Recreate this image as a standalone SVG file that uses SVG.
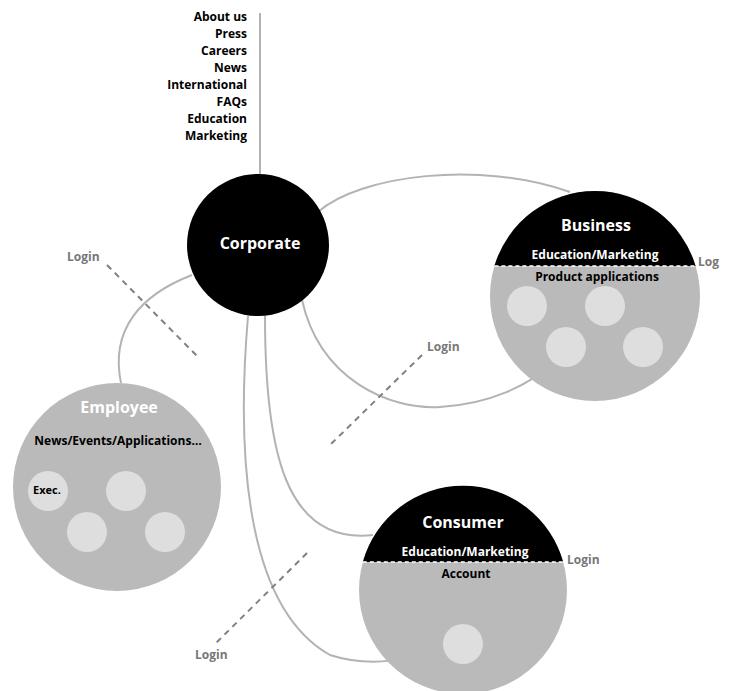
<svg xmlns="http://www.w3.org/2000/svg" width="730" height="691" viewBox="0 0 730 691">
<style>
text{font-family:"Open Sans","Liberation Sans",Arial,sans-serif;font-weight:bold}
.nav{font-size:12px;fill:#000;text-anchor:end}
.title{font-size:16px;fill:#fff;text-anchor:middle}
.sub{font-size:12px;text-anchor:middle}
.login{font-size:12px;fill:#777}
.conn{fill:none;stroke:#b3b3b3;stroke-width:2}
.dash{fill:none;stroke:#808080;stroke-width:2;stroke-dasharray:6 5}
.big{fill:#bababa}
.small{fill:#dedede}
.cap{fill:#000}
.chord{stroke:#fff;stroke-width:1.5;stroke-dasharray:4 3}
</style>
<g id="connectors">
<line class="conn" x1="260" y1="13" x2="260" y2="174"/>
<path class="conn" d="M318,212 C360,175 480,160 570,192"/>
<path class="conn" d="M192,275 C140,295 110,330 121,383"/>
<path class="conn" d="M302,300 C320,380 390,410 440,407 C490,404 530,385 552,363"/>
<path class="conn" d="M265,316 C265,450 285,545 373,535"/>
<path class="conn" d="M248,316 C235,470 250,610 330,655 C370,668 410,660 445,648"/>
<line class="dash" x1="107" y1="265" x2="198" y2="357"/>
<line class="dash" x1="422" y1="355" x2="330" y2="445"/>
<line class="dash" x1="307" y1="553" x2="215" y2="644"/>
</g>
<g id="nav">
<text class="nav" x="247" y="21">About us</text>
<text class="nav" x="247" y="38">Press</text>
<text class="nav" x="247" y="55">Careers</text>
<text class="nav" x="247" y="72">News</text>
<text class="nav" x="247" y="89">International</text>
<text class="nav" x="247" y="106">FAQs</text>
<text class="nav" x="247" y="123">Education</text>
<text class="nav" x="247" y="140">Marketing</text>
</g>
<g id="corporate">
<circle cx="258" cy="245" r="71" fill="#000"/>
<text class="title" x="260" y="249">Corporate</text>
</g>
<g id="business">
<circle class="big" cx="595" cy="296" r="105"/>
<path class="cap" d="M494.4,266 A105,105 0 0 1 695.6,266 Z"/>
<line class="chord" x1="494.4" y1="266" x2="695.6" y2="266"/>
<text class="title" x="596" y="231">Business</text>
<text class="sub" x="595" y="259" fill="#fff">Education/Marketing</text>
<text class="sub" x="597" y="281" fill="#000">Product applications</text>
<circle class="small" cx="527" cy="306" r="20"/>
<circle class="small" cx="605" cy="306" r="20"/>
<circle class="small" cx="566" cy="347" r="20"/>
<circle class="small" cx="643" cy="347" r="20"/>
<text class="login" x="698" y="266">Log</text>
</g>
<g id="consumer">
<circle class="big" cx="463" cy="590" r="104"/>
<path class="cap" d="M362.8,562 A104,104 0 0 1 563.2,562 Z"/>
<line class="chord" x1="362.8" y1="562" x2="563.2" y2="562"/>
<text class="title" x="463" y="528">Consumer</text>
<text class="sub" x="465" y="556" fill="#fff">Education/Marketing</text>
<text class="sub" x="466" y="578" fill="#000">Account</text>
<circle class="small" cx="463" cy="644" r="20"/>
<text class="login" x="567" y="564">Login</text>
</g>
<g id="employee">
<circle class="big" cx="117" cy="487" r="104"/>
<text class="title" x="119" y="413" fill="#eee">Employee</text>
<text class="sub" x="118" y="445" fill="#000">News/Events/Applications…</text>
<circle class="small" cx="48" cy="491" r="20"/>
<circle class="small" cx="126" cy="491" r="20"/>
<circle class="small" cx="87" cy="532" r="20"/>
<circle class="small" cx="165" cy="532" r="20"/>
<text x="33" y="494" font-size="11" fill="#000">Exec.</text>
</g>
<g id="logins">
<text class="login" x="67" y="261">Login</text>
<text class="login" x="427" y="351">Login</text>
<text class="login" x="195" y="659">Login</text>
</g>
</svg>
